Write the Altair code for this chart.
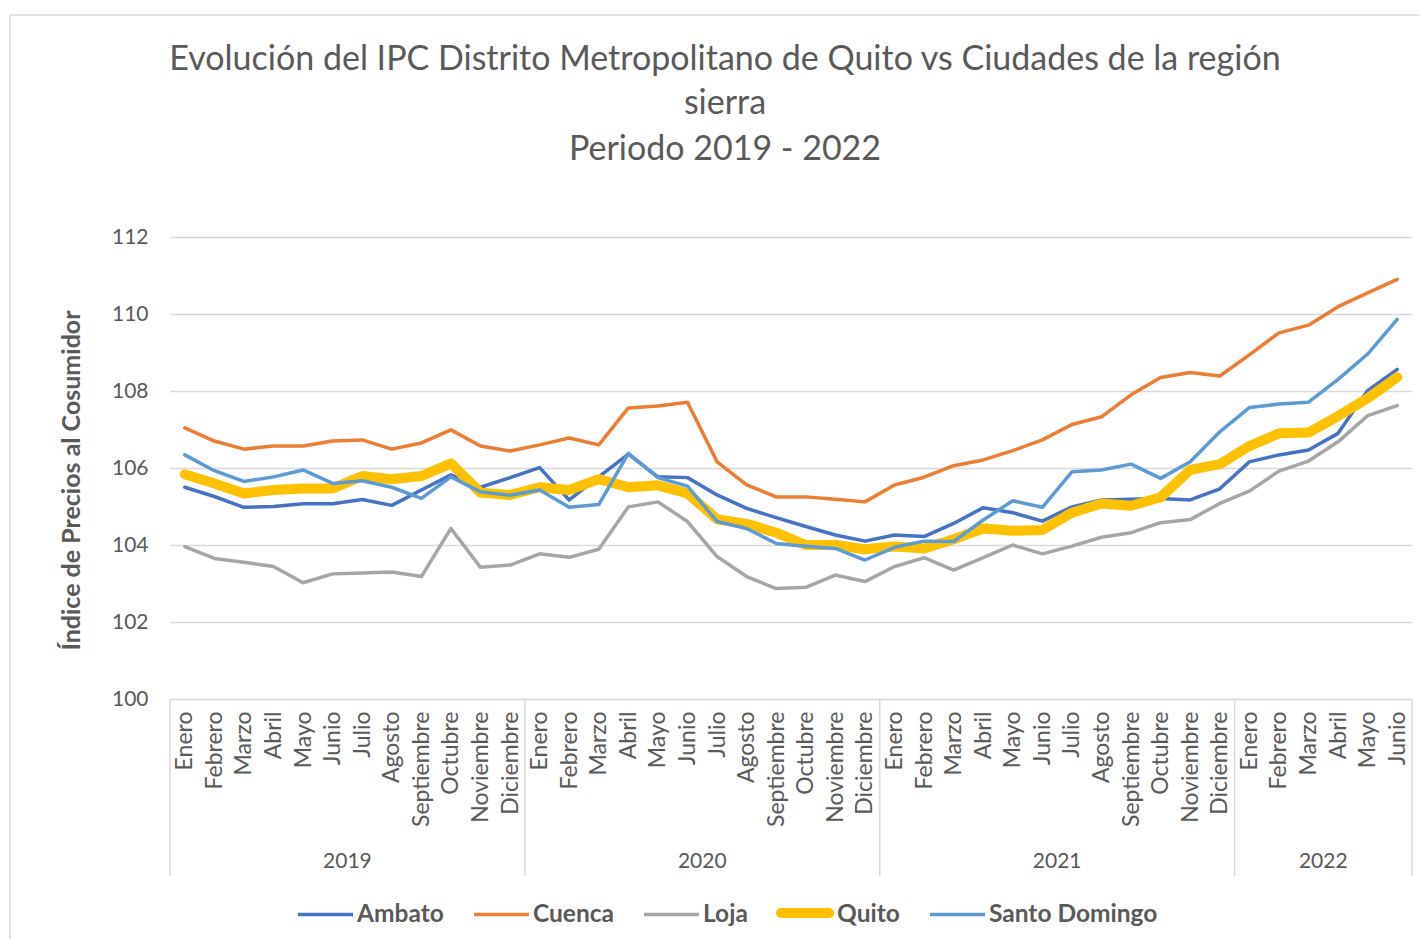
import altair as alt
import pandas as pd

title_lines = ["Evolución del IPC Distrito Metropolitano de Quito vs Ciudades de la región",
               "sierra", "Periodo 2019 - 2022"]
months = ["Enero", "Febrero", "Marzo", "Abril", "Mayo", "Junio", "Julio",
          "Agosto", "Septiembre", "Octubre", "Noviembre", "Diciembre"]
years = ["2019", "2020", "2021", "2022"]
year_centers = [5.5, 17.5, 29.5, 38.5]
year_bounds = [-0.5, 11.5, 23.5, 35.5, 41.5]

cities = ["Ambato", "Cuenca", "Loja", "Quito", "Santo Domingo"]
colors = ["#4472C4", "#ED7D31", "#A5A5A5", "#FFC000", "#5B9BD5"]

ambato = [105.50, 105.26, 104.98, 105.00, 105.07, 105.07, 105.18, 105.03, 105.43, 105.82, 105.50, 105.75,
          106.01, 105.17, 105.77, 106.36, 105.77, 105.75, 105.30, 104.95, 104.71, 104.48, 104.26, 104.10,
          104.26, 104.22, 104.56, 104.97, 104.84, 104.62, 104.99, 105.17, 105.19, 105.21, 105.17, 105.46,
          106.16, 106.34, 106.47, 106.90, 108.01, 108.56]
cuenca = [107.04, 106.70, 106.49, 106.57, 106.57, 106.70, 106.73, 106.49, 106.65, 106.99, 106.57, 106.44,
          106.60, 106.78, 106.60, 107.56, 107.61, 107.71, 106.16, 105.56, 105.25, 105.25, 105.19, 105.12,
          105.56, 105.76, 106.06, 106.21, 106.45, 106.73, 107.13, 107.33, 107.90, 108.35, 108.48, 108.39,
          108.94, 109.51, 109.71, 110.19, 110.55, 110.90]
loja = [103.96, 103.65, 103.55, 103.44, 103.02, 103.25, 103.27, 103.30, 103.18, 104.43, 103.42, 103.48,
        103.77, 103.68, 103.89, 104.99, 105.12, 104.61, 103.70, 103.18, 102.87, 102.90, 103.22, 103.05,
        103.44, 103.67, 103.35, 103.67, 104.00, 103.77, 103.97, 104.20, 104.32, 104.58, 104.66, 105.08,
        105.40, 105.92, 106.18, 106.68, 107.36, 107.62]
quito = [105.84, 105.60, 105.34, 105.43, 105.47, 105.47, 105.79, 105.71, 105.79, 106.12, 105.36, 105.30,
         105.50, 105.43, 105.71, 105.50, 105.55, 105.34, 104.67, 104.55, 104.32, 104.00, 104.00, 103.89,
         103.96, 103.91, 104.15, 104.43, 104.37, 104.39, 104.84, 105.08, 105.02, 105.24, 105.95, 106.10,
         106.57, 106.90, 106.92, 107.35, 107.81, 108.36]
santo_domingo = [106.34, 105.93, 105.65, 105.77, 105.95, 105.60, 105.67, 105.50, 105.21, 105.77, 105.38, 105.29,
                 105.43, 104.98, 105.05, 106.38, 105.75, 105.53, 104.61, 104.43, 104.04, 103.97, 103.91, 103.61,
                 103.94, 104.10, 104.09, 104.65, 105.15, 104.98, 105.90, 105.95, 106.10, 105.73, 106.16, 106.94,
                 107.57, 107.66, 107.71, 108.30, 108.96, 109.86]

series = [ambato, cuenca, loja, quito, santo_domingo]
rows = []
for city, vals in zip(cities, series):
    for i, v in enumerate(vals):
        rows.append({"idx": i, "city": city, "ipc": v})
df = pd.DataFrame(rows)

W, H = 1242, 462
GRAY = "#595959"
FONT = "Lato"

month_expr = "[" + ",".join("'%s'" % m for m in months) + "][datum.value % 12]"

xscale = alt.Scale(domain=[-0.5, 41.5], nice=False, zero=False)
yscale = alt.Scale(domain=[100, 112], nice=False, zero=False)
color_scale = alt.Scale(domain=cities, range=colors)

x_axis = alt.Axis(
    values=list(range(42)), labelExpr=month_expr, labelAngle=270, labelAlign="right",
    labelBaseline="middle", labelFontSize=23, labelFont=FONT, labelColor=GRAY,
    labelPadding=12, labelOverlap=False, labelBound=False, labelFlush=False,
    ticks=False, grid=False, domainColor="#d9d9d9", domainWidth=1.5, title=None)
x_enc = alt.X("idx:Q", scale=xscale, axis=x_axis)
y_enc = alt.Y("ipc:Q", scale=yscale, axis=alt.Axis(
    values=[100, 102, 104, 106, 108, 110, 112], labelFontSize=21, labelFont=FONT,
    labelColor=GRAY, labelPadding=22, ticks=False, domain=False, gridColor="#d9d9d9",
    gridWidth=1.5, title="Índice de Precios al Cosumidor", titleFontSize=25,
    titleFont=FONT, titleFontWeight="bold", titleColor=GRAY, titlePadding=27, titleY=243))

legend = alt.Legend(
    title=None, orient="none", direction="horizontal", legendX=126, legendY=648,
    symbolType="stroke", symbolSize=3025, symbolStrokeWidth=3.5, labelFontSize=24.5,
    labelFont=FONT, labelFontWeight="bold", labelColor=GRAY, labelOffset=2, columnPadding=23,
    labelLimit=400)

layers = []
for city in cities:
    layers.append(
        alt.Chart(df).transform_filter(alt.datum.city == city).mark_line(
            strokeCap="round", strokeJoin="round",
            strokeWidth=10 if city == "Quito" else 3.5).encode(
            x=x_enc, y=y_enc,
            color=alt.Color("city:N", scale=color_scale, legend=legend),
        )
    )

sep_df = pd.DataFrame({"idx": year_bounds})
seps = alt.Chart(sep_df).mark_rule(color="#d9d9d9", strokeWidth=1.5).encode(
    x=x_enc, y=alt.value(H), y2=alt.value(H + 177))

yr_df = pd.DataFrame({"idx": year_centers, "year": years})
yr_text = alt.Chart(yr_df).mark_text(fontSize=21, font=FONT, color=GRAY, baseline="middle").encode(
    x=x_enc, y=alt.value(H + 163), text="year:N")

title_df = pd.DataFrame({"line": title_lines, "ty": [-177, -133, -87]})
title_text = alt.Chart(title_df).mark_text(fontSize=34, font=FONT, color=GRAY, baseline="middle",
                                           align="center").encode(
    x=alt.value(725 - 170), y=alt.Y("ty:Q", scale=None), text="line:N")

border = alt.Chart(pd.DataFrame({"a": [0]})).mark_rect(
    fillOpacity=0, stroke="#d9d9d9", strokeWidth=1.5).encode(
    x=alt.value(-160), x2=alt.value(1300), y=alt.value(-222), y2=alt.value(720))

# thick swatch for the Quito legend entry (Quito is drawn thicker)
quito_swatch = alt.Chart(pd.DataFrame({"a": [0]})).mark_rule(
    color="#FFC000", strokeWidth=10, strokeCap="round").encode(
    x=alt.value(781 - 170), x2=alt.value(829 - 170), y=alt.value(676))

chart = alt.layer(border, *layers, seps, yr_text, title_text, quito_swatch).properties(
    width=W, height=H,
    autosize=alt.AutoSizeParams(type="none"),
    padding={"left": 162, "top": 229, "right": 8, "bottom": 240},
).configure_view(stroke=None)

chart.save("out.html", embed_options={"renderer": "svg", "actions": False})
